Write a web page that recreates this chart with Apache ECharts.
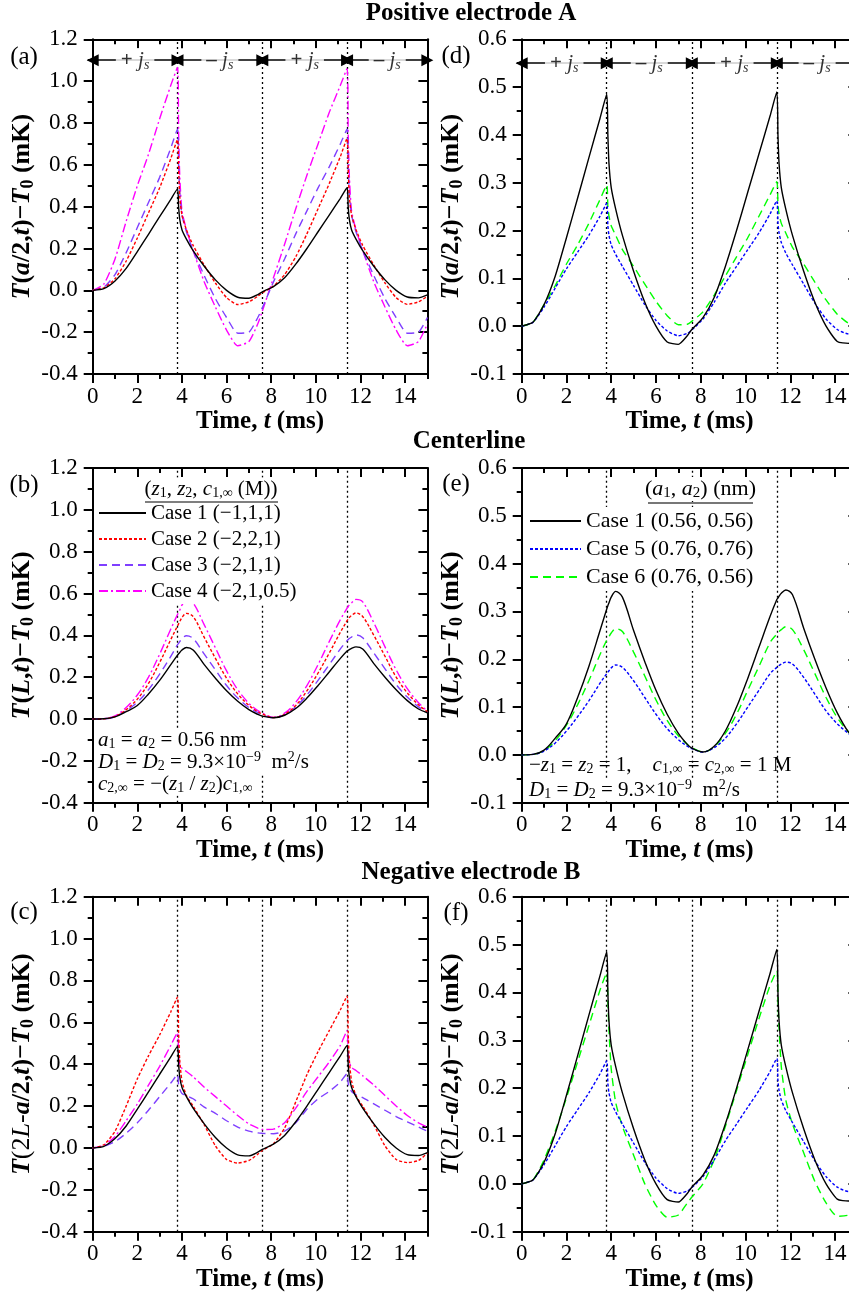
<!DOCTYPE html>
<html>
<head>
<meta charset="utf-8">
<title>Temperature rise at electrodes and centerline</title>
<script src="https://cdn.jsdelivr.net/npm/echarts@6.0.0/dist/echarts.min.js"></script>
<style>
  html, body { margin: 0; padding: 0; background: #fff; }
  #chart { width: 849px; height: 1292px; }
</style>
</head>
<body>
<div id="chart"></div>
<script>
// time samples (ms) shared by every curve
const time = [0, 0.5, 1, 1.5, 2, 2.5, 3, 3.5, 3.8, 3.85, 3.9, 4, 4.2, 4.5, 5, 5.5, 6, 6.5, 7, 7.4, 7.6,
  8.1, 8.6, 9.1, 9.6, 10.1, 10.6, 11.1, 11.4, 11.45, 11.5, 11.6, 11.8, 12.1, 12.6, 13.1, 13.6, 14.1, 14.6, 15];

// current switching times and the +js / -js phases
const switchTimes = [3.8, 7.6, 11.4];
const phaseEdges = [0, 3.8, 7.6, 11.4, 15];
const phaseSigns = ['+', '–', '+', '–'];
const xTicks = [0, 2, 4, 6, 8, 10, 12, 14];

// positive electrode A, T(a/2,t) - T0 (mK)
const caseA1 = [0, 0.008, 0.045, 0.105, 0.185, 0.268, 0.352, 0.435, 0.485, 0.40, 0.34, 0.29, 0.245, 0.19, 0.115, 0.05, 0.0, -0.033, -0.038, -0.02, -0.007,
  0.018, 0.06, 0.125, 0.2, 0.28, 0.36, 0.44, 0.49, 0.40, 0.34, 0.29, 0.245, 0.19, 0.115, 0.05, 0.0, -0.032, -0.036, -0.022];
const caseA2 = [0, 0.012, 0.055, 0.14, 0.25, 0.37, 0.49, 0.63, 0.72, 0.58, 0.45, 0.36, 0.29, 0.215, 0.12, 0.035, -0.035, -0.068, -0.055, -0.028, -0.012,
  0.02, 0.075, 0.16, 0.27, 0.39, 0.51, 0.64, 0.725, 0.58, 0.45, 0.36, 0.29, 0.215, 0.12, 0.035, -0.035, -0.067, -0.055, -0.028];
const caseA3 = [0, 0.015, 0.075, 0.18, 0.3, 0.42, 0.54, 0.68, 0.77, 0.6, 0.47, 0.36, 0.28, 0.19, 0.07, -0.04, -0.13, -0.205, -0.2, -0.13, -0.085,
  0.04, 0.15, 0.27, 0.38, 0.49, 0.59, 0.7, 0.77, 0.6, 0.47, 0.36, 0.28, 0.19, 0.07, -0.04, -0.13, -0.205, -0.2, -0.13];
const caseA4 = [0, 0.03, 0.15, 0.33, 0.5, 0.65, 0.82, 0.98, 1.065, 0.75, 0.55, 0.38, 0.29, 0.19, 0.04, -0.08, -0.19, -0.265, -0.245, -0.16, -0.1,
  0.06, 0.22, 0.39, 0.55, 0.7, 0.85, 0.98, 1.06, 0.75, 0.55, 0.38, 0.29, 0.19, 0.04, -0.08, -0.19, -0.265, -0.245, -0.16];
const caseA5 = [0, 0.008, 0.04, 0.08, 0.12, 0.155, 0.19, 0.23, 0.257, 0.21, 0.19, 0.17, 0.15, 0.125, 0.085, 0.045, 0.012, -0.01, -0.02, -0.015, -0.008,
  0.015, 0.05, 0.09, 0.125, 0.16, 0.195, 0.235, 0.262, 0.215, 0.195, 0.175, 0.153, 0.128, 0.088, 0.048, 0.015, -0.007, -0.016, -0.014];
const caseA6 = [0, 0.008, 0.045, 0.085, 0.13, 0.17, 0.215, 0.265, 0.295, 0.25, 0.23, 0.21, 0.19, 0.16, 0.125, 0.088, 0.052, 0.022, 0.003, 0.004, 0.01,
  0.03, 0.065, 0.105, 0.145, 0.185, 0.23, 0.275, 0.302, 0.255, 0.235, 0.215, 0.195, 0.165, 0.13, 0.092, 0.055, 0.025, 0.006, 0.0];

// centerline, T(L,t) - T0 (mK)
const caseC1 = [0, 0.001, 0.01, 0.035, 0.065, 0.12, 0.185, 0.26, 0.305, 0.312, 0.318, 0.33, 0.342, 0.33, 0.26, 0.195, 0.135, 0.085, 0.045, 0.022, 0.014,
  0.006, 0.018, 0.05, 0.1, 0.16, 0.225, 0.29, 0.325, 0.328, 0.332, 0.338, 0.345, 0.335, 0.265, 0.2, 0.14, 0.088, 0.048, 0.03];
const caseC2 = [0, 0.001, 0.012, 0.045, 0.095, 0.17, 0.27, 0.38, 0.445, 0.455, 0.465, 0.485, 0.505, 0.49, 0.39, 0.29, 0.195, 0.12, 0.065, 0.035, 0.024,
  0.007, 0.022, 0.065, 0.135, 0.22, 0.315, 0.415, 0.47, 0.478, 0.485, 0.495, 0.507, 0.49, 0.4, 0.3, 0.2, 0.125, 0.068, 0.035];
const caseC3 = [0, 0.001, 0.011, 0.04, 0.08, 0.14, 0.215, 0.3, 0.355, 0.362, 0.37, 0.385, 0.398, 0.385, 0.31, 0.235, 0.16, 0.1, 0.055, 0.03, 0.02,
  0.006, 0.02, 0.058, 0.115, 0.185, 0.26, 0.335, 0.375, 0.38, 0.385, 0.392, 0.402, 0.388, 0.315, 0.24, 0.165, 0.105, 0.058, 0.032];
const caseC4 = [0, 0.002, 0.015, 0.055, 0.115, 0.2, 0.31, 0.43, 0.5, 0.51, 0.52, 0.545, 0.568, 0.555, 0.45, 0.34, 0.23, 0.14, 0.075, 0.04, 0.028,
  0.008, 0.028, 0.08, 0.16, 0.26, 0.37, 0.475, 0.53, 0.538, 0.545, 0.555, 0.572, 0.56, 0.46, 0.345, 0.235, 0.145, 0.078, 0.038];
const caseC5 = [0, 0.001, 0.008, 0.025, 0.05, 0.08, 0.113, 0.15, 0.17, 0.173, 0.176, 0.182, 0.188, 0.183, 0.155, 0.12, 0.085, 0.055, 0.032, 0.018, 0.013,
  0.006, 0.015, 0.035, 0.065, 0.1, 0.135, 0.17, 0.183, 0.185, 0.187, 0.19, 0.194, 0.19, 0.162, 0.127, 0.092, 0.065, 0.045, 0.032];
const caseC6 = [0, 0.001, 0.009, 0.03, 0.062, 0.105, 0.155, 0.21, 0.24, 0.243, 0.247, 0.255, 0.264, 0.258, 0.215, 0.165, 0.115, 0.072, 0.04, 0.022, 0.015,
  0.006, 0.017, 0.045, 0.085, 0.135, 0.185, 0.235, 0.253, 0.256, 0.258, 0.262, 0.268, 0.262, 0.22, 0.17, 0.12, 0.078, 0.048, 0.032];

// negative electrode B, T(2L-a/2,t) - T0 (mK)
const caseB1 = [0, 0.008, 0.045, 0.105, 0.185, 0.268, 0.352, 0.435, 0.485, 0.40, 0.34, 0.29, 0.245, 0.19, 0.115, 0.05, 0.0, -0.033, -0.038, -0.02, -0.007,
  0.018, 0.06, 0.125, 0.2, 0.28, 0.36, 0.44, 0.49, 0.40, 0.34, 0.29, 0.245, 0.19, 0.115, 0.05, 0.0, -0.032, -0.036, -0.022];
const caseB2 = [0, 0.015, 0.08, 0.2, 0.33, 0.44, 0.54, 0.65, 0.72, 0.55, 0.42, 0.32, 0.25, 0.2, 0.11, 0.01, -0.055, -0.072, -0.06, -0.03, -0.012,
  0.02, 0.095, 0.22, 0.35, 0.46, 0.56, 0.66, 0.725, 0.55, 0.42, 0.32, 0.25, 0.2, 0.11, 0.01, -0.055, -0.07, -0.06, -0.025];
const caseB3 = [0, 0.008, 0.03, 0.07, 0.12, 0.18, 0.245, 0.31, 0.35, 0.3, 0.28, 0.26, 0.25, 0.235, 0.195, 0.165, 0.13, 0.1, 0.08, 0.072, 0.07,
  0.068, 0.08, 0.12, 0.185, 0.235, 0.27, 0.315, 0.355, 0.31, 0.29, 0.27, 0.255, 0.24, 0.21, 0.18, 0.15, 0.125, 0.1, 0.08];
const caseB4 = [0, 0.012, 0.055, 0.13, 0.21, 0.3, 0.39, 0.49, 0.55, 0.44, 0.4, 0.38, 0.365, 0.34, 0.29, 0.245, 0.2, 0.155, 0.115, 0.095, 0.088,
  0.09, 0.12, 0.19, 0.27, 0.34, 0.41, 0.49, 0.56, 0.45, 0.41, 0.385, 0.37, 0.345, 0.3, 0.25, 0.2, 0.155, 0.12, 0.1];
const caseB5 = [0, 0.008, 0.04, 0.08, 0.12, 0.155, 0.19, 0.23, 0.257, 0.21, 0.19, 0.17, 0.15, 0.125, 0.085, 0.045, 0.012, -0.01, -0.02, -0.015, -0.008,
  0.015, 0.05, 0.09, 0.125, 0.16, 0.195, 0.235, 0.262, 0.215, 0.195, 0.175, 0.153, 0.128, 0.088, 0.048, 0.015, -0.007, -0.016, -0.014];
const caseB6 = [0, 0.008, 0.05, 0.11, 0.18, 0.255, 0.33, 0.405, 0.441, 0.38, 0.32, 0.24, 0.17, 0.12, 0.06, 0.0, -0.045, -0.07, -0.065, -0.04, -0.028,
  0.0, 0.05, 0.12, 0.195, 0.27, 0.345, 0.415, 0.445, 0.385, 0.325, 0.245, 0.175, 0.125, 0.065, 0.005, -0.04, -0.068, -0.065, -0.045];

const leftNames = ['Case 1 (−1,1,1)', 'Case 2 (−2,2,1)', 'Case 3 (−2,1,1)', 'Case 4 (−2,1,0.5)'];
const rightNames = ['Case 1 (0.56, 0.56)', 'Case 5 (0.76, 0.76)', 'Case 6 (0.76, 0.56)'];

const serif = "'Liberation Serif', 'Times New Roman', serif";
const lineStyles = {};
lineStyles[leftNames[0]] = { color: '#000000', type: 'solid', width: 1.4 };
lineStyles[leftNames[1]] = { color: '#ff0000', type: [3, 2], width: 1.4 };
lineStyles[leftNames[2]] = { color: '#7f3fff', type: [8, 5], width: 1.4 };
lineStyles[leftNames[3]] = { color: '#ff00ff', type: [9, 3, 2, 3], width: 1.4 };
lineStyles[rightNames[0]] = { color: '#000000', type: 'solid', width: 1.4 };
lineStyles[rightNames[1]] = { color: '#0000ff', type: [3, 2], width: 1.4 };
lineStyles[rightNames[2]] = { color: '#00ff00', type: [8, 5], width: 1.4 };

function nameTokens(size) {
  const b = { fontFamily: serif, fontSize: size, fontWeight: 'bold', color: '#000', lineHeight: size + 4 };
  return {
    b: b,
    bi: Object.assign({}, b, { fontStyle: 'italic' }),
    r: Object.assign({}, b, { fontWeight: 'normal' }),
    ri: Object.assign({}, b, { fontWeight: 'normal', fontStyle: 'italic' }),
    sb: Object.assign({}, b, { fontSize: Math.round(size * 0.68), lineHeight: Math.round(size * 0.5), verticalAlign: 'bottom' })
  };
}

// plain text tokens for graphic elements (zrender uses fill)
function textTokens(size) {
  const r = { fontFamily: serif, fontSize: size, fill: '#000', lineHeight: Math.round(size * 1.1) };
  const small = Math.round(size * 0.68);
  return {
    r: r,
    i: Object.assign({}, r, { fontStyle: 'italic' }),
    sb: Object.assign({}, r, { fontSize: small, lineHeight: Math.round(size * 0.55), verticalAlign: 'bottom' }),
    sp: Object.assign({}, r, { fontSize: small, lineHeight: Math.round(size * 0.55), verticalAlign: 'top' })
  };
}

const yNameA = '{bi|T}{b|(}{bi|a}{b|/2,}{bi|t}{b|)−}{bi|T}{sb|0}{b| (mK)}';
const yNameC = '{bi|T}{b|(}{bi|L}{b|,}{bi|t}{b|)−}{bi|T}{sb|0}{b| (mK)}';
const yNameB = '{bi|T}{r|(2}{ri|L}{r|-}{bi|a}{b|/2,}{bi|t}{b|)−}{bi|T}{sb|0}{b| (mK)}';
const xName = '{b|Time, }{bi|t}{b| (ms)}';

const panels = [
  { left: 92.7, top: 39.3, width: 334.7, height: 334.7, ymin: -0.4, ymax: 1.2, step: 0.2, yName: yNameA, nameGap: 50, arrowAt: 1.1, smooth: 0.2,
    lines: [[caseA1, leftNames[0]], [caseA2, leftNames[1]], [caseA3, leftNames[2]], [caseA4, leftNames[3]]] },
  { left: 521.7, top: 39.3, width: 335.7, height: 334.7, ymin: -0.1, ymax: 0.6, step: 0.1, yName: yNameA, nameGap: 45, arrowAt: 0.55, smooth: 0.2,
    lines: [[caseA1, rightNames[0]], [caseA5, rightNames[1]], [caseA6, rightNames[2]]] },
  { left: 92.7, top: 468, width: 334.7, height: 334.7, ymin: -0.4, ymax: 1.2, step: 0.2, yName: yNameC, nameGap: 50, smooth: 0.35,
    lines: [[caseC1, leftNames[0]], [caseC2, leftNames[1]], [caseC3, leftNames[2]], [caseC4, leftNames[3]]] },
  { left: 521.7, top: 468, width: 335.7, height: 334.7, ymin: -0.1, ymax: 0.6, step: 0.1, yName: yNameC, nameGap: 45, smooth: 0.35,
    lines: [[caseC1, rightNames[0]], [caseC5, rightNames[1]], [caseC6, rightNames[2]]] },
  { left: 92.7, top: 896.7, width: 334.7, height: 335, ymin: -0.4, ymax: 1.2, step: 0.2, yName: yNameB, nameGap: 50, smooth: 0.2,
    lines: [[caseB1, leftNames[0]], [caseB2, leftNames[1]], [caseB3, leftNames[2]], [caseB4, leftNames[3]]] },
  { left: 521.7, top: 896.7, width: 335.7, height: 335, ymin: -0.1, ymax: 0.6, step: 0.1, yName: yNameB, nameGap: 45, smooth: 0.2,
    lines: [[caseB1, rightNames[0]], [caseB5, rightNames[1]], [caseB6, rightNames[2]]] }
];

const axisLineStyle = { color: '#000', width: 2 };
const tickStyle = { color: '#000', width: 2 };
const option = {
  animation: false,
  backgroundColor: '#fff',
  textStyle: { fontFamily: serif },
  grid: [], xAxis: [], yAxis: [], series: [],
  legend: [
    { data: leftNames, orient: 'vertical', left: 98, top: 500, padding: 0, itemGap: 0, itemWidth: 47, itemHeight: 14,
      backgroundColor: '#fff', selectedMode: false, itemStyle: { opacity: 0 },
      textStyle: { fontFamily: serif, fontSize: 21, color: '#000', lineHeight: 26 } },
    { data: rightNames, orient: 'vertical', left: 529, top: 507, padding: 0, itemGap: 0, itemWidth: 51, itemHeight: 14,
      backgroundColor: '#fff', selectedMode: false, itemStyle: { opacity: 0 },
      textStyle: { fontFamily: serif, fontSize: 22, color: '#000', lineHeight: 28 } }
  ],
  graphic: []
};

panels.forEach(function (p, i) {
  option.grid.push({ left: p.left, top: p.top, width: p.width, height: p.height, containLabel: false, outerBoundsMode: 'none' });
  const xBase = { gridIndex: i, type: 'value', min: 0, max: 15, splitLine: { show: false }, axisLabel: { show: false } };
  option.xAxis.push(Object.assign({}, xBase, {
    position: 'bottom', interval: 2,
    axisLine: { show: true, onZero: false, lineStyle: axisLineStyle },
    axisTick: { show: true, inside: false, length: 9, lineStyle: tickStyle, customValues: xTicks },
    axisLabel: { show: true, customValues: xTicks, margin: 11, color: '#000', fontFamily: serif, fontSize: 23 },
    name: xName, nameLocation: 'middle', nameGap: 28,
    nameTextStyle: { rich: nameTokens(25) }
  }));
  option.xAxis.push(Object.assign({}, xBase, {
    position: 'bottom', interval: 1, axisLine: { show: false, onZero: false },
    axisTick: { show: true, inside: false, length: 5, lineStyle: tickStyle }
  }));
  option.xAxis.push(Object.assign({}, xBase, {
    position: 'top', interval: 2,
    axisLine: { show: true, onZero: false, lineStyle: axisLineStyle },
    axisTick: { show: true, inside: true, length: 9, lineStyle: tickStyle, customValues: xTicks }
  }));
  option.xAxis.push(Object.assign({}, xBase, {
    position: 'top', interval: 1, axisLine: { show: false, onZero: false },
    axisTick: { show: true, inside: true, length: 5, lineStyle: tickStyle }
  }));

  const yBase = { gridIndex: i, type: 'value', min: p.ymin, max: p.ymax, interval: p.step,
    splitLine: { show: false }, minorSplitLine: { show: false },
    axisLine: { show: true, onZero: false, lineStyle: axisLineStyle } };
  option.yAxis.push(Object.assign({}, yBase, {
    position: 'left',
    axisTick: { show: true, inside: false, length: 9, lineStyle: tickStyle },
    minorTick: { show: true, splitNumber: 2, length: 5, lineStyle: tickStyle },
    axisLabel: { show: true, margin: 15, color: '#000', fontFamily: serif, fontSize: 23,
      formatter: function (v) { return (Math.abs(v) < 1e-9 ? 0 : v).toFixed(1); } },
    name: p.yName, nameLocation: 'middle', nameGap: p.nameGap,
    nameTextStyle: { rich: nameTokens(26) }
  }));
  option.yAxis.push(Object.assign({}, yBase, {
    position: 'right',
    axisTick: { show: true, inside: true, length: 9, lineStyle: tickStyle },
    minorTick: { show: true, splitNumber: 2, length: 5, lineStyle: tickStyle },
    axisLabel: { show: false }
  }));

  p.lines.forEach(function (ln, k) {
    const st = lineStyles[ln[1]];
    const s = {
      type: 'line', name: ln[1], xAxisIndex: 4 * i, yAxisIndex: 2 * i,
      data: time.map(function (t, j) { return [t, ln[0][j]]; }),
      symbol: 'none', showSymbol: false, silent: true, smooth: p.smooth, z: 2 + (p.lines.length - k),
      lineStyle: { color: st.color, width: st.width, type: st.type },
      itemStyle: { color: st.color }
    };
    if (k === 0) {
      s.markLine = {
        silent: true, symbol: ['none', 'none'], label: { show: false }, z: 1,
        lineStyle: { color: '#000', type: [2, 3], width: 1.3 },
        data: switchTimes.map(function (t) { return { xAxis: t }; })
      };
    }
    option.series.push(s);
  });

  if (p.arrowAt != null) {
    // double-headed arrows marking the +js / -js half periods
    option.series.push({
      type: 'line', xAxisIndex: 4 * i, yAxisIndex: 2 * i, data: [], silent: true,
      markLine: {
        silent: true, symbol: ['triangle', 'triangle'], symbolSize: 12, z: 5,
        label: { show: false },
        lineStyle: { color: '#000', type: 'solid', width: 1.5 },
        data: phaseSigns.map(function (sg, k) {
          return [{ coord: [phaseEdges[k], p.arrowAt] }, { coord: [phaseEdges[k + 1], p.arrowAt] }];
        })
      }
    });
    option.series.push({
      type: 'scatter', xAxisIndex: 4 * i, yAxisIndex: 2 * i, silent: true, z: 10,
      symbolSize: 1, itemStyle: { color: 'rgba(0,0,0,0)' },
      data: phaseSigns.map(function (sg, k) { return [(phaseEdges[k] + phaseEdges[k + 1]) / 2, p.arrowAt, sg]; }),
      label: {
        show: true, position: 'inside', backgroundColor: '#fff', padding: [0, 5],
        formatter: function (prm) { return '{p|' + prm.value[2] + ' }{j|j}{s|s}'; },
        rich: {
          p: { fontFamily: serif, fontSize: 21, fontWeight: 'bold', color: '#000', lineHeight: 24 },
          j: { fontFamily: serif, fontSize: 21, fontStyle: 'italic', color: '#000', lineHeight: 24 },
          s: { fontFamily: serif, fontSize: 14, fontStyle: 'italic', color: '#000', lineHeight: 12, verticalAlign: 'bottom' }
        }
      }
    });
  }
});

// titles and panel letters
function addText(x, y, text, size, opts) {
  option.graphic.push({
    type: 'text', x: x, y: y, z: 100,
    style: Object.assign({ text: text, fontFamily: serif, fontSize: size, fill: '#000',
      textAlign: 'left', textVerticalAlign: 'middle' }, opts || {})
  });
}
addText(471, 14, 'Positive electrode A', 25, { fontWeight: 'bold', textAlign: 'center' });
addText(469, 442, 'Centerline', 25, { fontWeight: 'bold', textAlign: 'center' });
addText(471, 873, 'Negative electrode B', 25, { fontWeight: 'bold', textAlign: 'center' });
[['(a)', 24, 57], ['(d)', 456, 56], ['(b)', 24, 485], ['(e)', 456, 484], ['(c)', 24, 912], ['(f)', 456, 913]].forEach(function (l) {
  addText(l[1], l[2], l[0], 25, { textAlign: 'center' });
});

// legend headers with underline
addText(211, 489, '{r|(}{i|z}{sb|1}{r|, }{i|z}{sb|2}{r|, }{i|c}{sb|1,∞}{r| (M))}', 21,
  { textAlign: 'center', rich: textTokens(21), backgroundColor: '#fff' });
option.graphic.push({ type: 'line', z: 100, shape: { x1: 145, y1: 502, x2: 278, y2: 502 }, style: { stroke: '#555', lineWidth: 1.5 } });
addText(700.5, 489, '{r|(}{i|a}{sb|1}{r|, }{i|a}{sb|2}{r|) (nm)}', 22,
  { textAlign: 'center', rich: textTokens(22), backgroundColor: '#fff' });
option.graphic.push({ type: 'line', z: 100, shape: { x1: 648, y1: 503, x2: 753, y2: 503 }, style: { stroke: '#777', lineWidth: 2 } });

// parameter notes
const dRow = '{i|D}{sb|1}{r| = }{i|D}{sb|2}{r| = 9.3×10}{sp|−9}{r|  m}{sp|2}{r|/s}';
const noteB = [
  '{i|a}{sb|1}{r| = }{i|a}{sb|2}{r| = 0.56 nm}',
  dRow,
  '{i|c}{sb|2,∞}{r| = −(}{i|z}{sb|1}{r| / }{i|z}{sb|2}{r|)}{i|c}{sb|1,∞}'
];
noteB.forEach(function (t, k) {
  addText(98, 740 + 22 * k, t, 21, { rich: textTokens(21), backgroundColor: '#fff' });
});
addText(529, 765, '{r|−}{i|z}{sb|1}{r| = }{i|z}{sb|2}{r| = 1,    }{i|c}{sb|1,∞}{r| = }{i|c}{sb|2,∞}{r| = 1 M}', 21,
  { rich: textTokens(21) });
addText(529, 790, dRow, 21, { rich: textTokens(21), backgroundColor: '#fff' });

const chart = echarts.init(document.getElementById('chart'), null, { renderer: 'canvas' });
chart.setOption(option);
</script>
</body>
</html>
